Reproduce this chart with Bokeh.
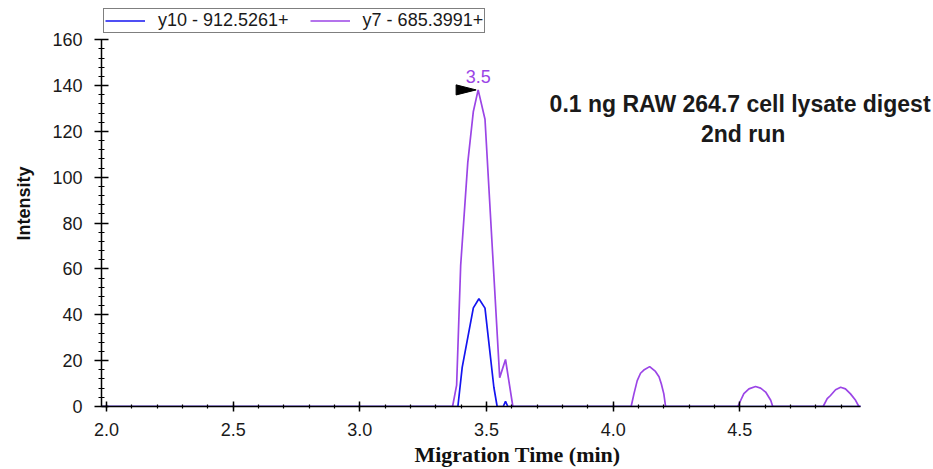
from bokeh.plotting import figure
from bokeh.models import (Range1d, SingleIntervalTicker, PrintfTickFormatter,
                          Legend, LegendItem, Label)
from bokeh.core.properties import value
from bokeh.embed import file_html
from bokeh.resources import INLINE

# ---- data ----
x_start, x_end = 1.98, 4.977        # drawn extent of the time axis
y_lo, y_hi = 0, 160                 # drawn extent of the intensity axis

y10_time = [x_start, 3.387, 3.404, 3.448, 3.470, 3.494, 3.529, 3.542,
            3.566, 3.575, 3.584, x_end]
y10_int = [0, 0, 17.1, 43.0, 47.0, 42.9, 8.4, 0,
           0, 2.2, 0, 0]

y7_time = [x_start, 3.366, 3.382, 3.398, 3.426, 3.448, 3.467, 3.494, 3.552,
           3.575, 3.604,
           4.071, 4.082, 4.095, 4.108, 4.121, 4.144, 4.167, 4.181, 4.190,
           4.200, 4.207,
           4.492, 4.516, 4.536, 4.562, 4.582, 4.602, 4.622, 4.630,
           4.829, 4.845, 4.858, 4.878, 4.898, 4.917, 4.937, 4.957, 4.970,
           x_end]
y7_int = [0, 0, 9.3, 61.6, 106.4, 128.7, 138.1, 125.3, 12.6,
          20.5, 0,
          0, 5.5, 11.3, 14.5, 15.9, 17.4, 15.3, 13.0, 9.9,
          5.5, 0,
          0, 5.6, 7.7, 8.7, 8.0, 6.3, 2.7, 0,
          0, 3.4, 4.8, 7.3, 8.4, 7.7, 5.5, 2.7, 0,
          0]

series_labels = ["y10 - 912.5261+", "y7 - 685.3991+"]
title_lines = ["0.1 ng RAW 264.7 cell lysate digest", "2nd run"]

BLUE = "#1414f0"
PURPLE = "#9b45e6"

W, H = 933, 469
LEFT, BOTTOM = 101, 62
frame_w = W - LEFT
frame_h = H - BOTTOM
px_per_min = 253.3
px_per_unit = (frame_h - 39.3) / (y_hi - y_lo)
x_range_end = x_start + frame_w / px_per_min
y_range_end = y_lo + frame_h / px_per_unit

p = figure(width=W, height=H,
           x_range=Range1d(x_start, x_range_end),
           y_range=Range1d(y_lo, y_range_end),
           output_backend="svg", toolbar_location=None,
           min_border_left=LEFT, min_border_right=0,
           min_border_top=0, min_border_bottom=BOTTOM)
p.xgrid.visible = False
p.ygrid.visible = False
p.outline_line_color = None

rp = p.line(y7_time, y7_int, line_color=PURPLE, line_width=1.7)
rb = p.line(y10_time, y10_int, line_color=BLUE, line_width=1.7)

# apex annotation
imax = max(range(len(y7_int)), key=lambda i: y7_int[i])
ax, ay = y7_time[imax], y7_int[imax]
p.patch([ax - 0.008, ax - 0.087, ax - 0.087], [ay, ay + 2.2, ay - 2.2],
        fill_color="black", line_color="black", line_width=1)
p.text([ax], [ay], text=[f"{ax:.1f}"], text_color=PURPLE,
       text_font=value("Liberation Sans"), text_font_size="18px",
       text_align="center", text_baseline="middle", y_offset=-13)

# axes
xa = p.xaxis[0]
xa.bounds = (x_start, x_end)
xa.ticker = SingleIntervalTicker(interval=0.5, num_minor_ticks=5)
xa.formatter = PrintfTickFormatter(format="%.1f")
xa.axis_label = "Migration Time (min)"
xa.axis_label_text_font = "Liberation Serif"
xa.axis_label_text_font_style = "bold"
xa.axis_label_text_font_size = "22px"
xa.axis_label_standoff = 3
xa.major_label_standoff = 11

ya = p.yaxis[0]
ya.bounds = (y_lo, y_hi)
ya.ticker = SingleIntervalTicker(interval=20, num_minor_ticks=5)
ya.axis_label = "Intensity"
ya.axis_label_text_font = "Liberation Sans"
ya.axis_label_text_font_style = "bold"
ya.axis_label_text_font_size = "18px"
ya.axis_label_standoff = 15
ya.major_label_standoff = 12

for a in (xa, ya):
    a.axis_line_color = "black"
    a.axis_line_width = 1.5
    a.major_tick_line_color = "black"
    a.major_tick_line_width = 1.5
    a.minor_tick_line_color = "black"
    a.minor_tick_line_width = 1.2
    a.major_label_text_font = "Liberation Sans"
    a.major_label_text_font_size = "18px"
    a.major_label_text_color = "#1a1a1a"
    a.axis_label_text_color = "#111111"

xa.major_tick_in = 5
xa.major_tick_out = 5
xa.minor_tick_in = 2
xa.minor_tick_out = 2
ya.major_tick_in = 7
ya.major_tick_out = 7
ya.minor_tick_in = 3
ya.minor_tick_out = 3

# title text
p.add_layout(Label(x=4.501, y=132.1, text=title_lines[0], text_align="center",
                   text_baseline="middle", text_font="Liberation Sans",
                   text_font_style="bold", text_font_size="23px",
                   text_color="#1a1a1a"))
p.add_layout(Label(x=4.513, y=119.0, text=title_lines[1], text_align="center",
                   text_baseline="middle", text_font="Liberation Sans",
                   text_font_style="bold", text_font_size="23px",
                   text_color="#1a1a1a"))

legend = Legend(items=[LegendItem(label=series_labels[0], renderers=[rb]),
                       LegendItem(label=series_labels[1], renderers=[rp])],
                orientation="horizontal", location=(2, frame_h - 34),
                border_line_color="black", border_line_width=1.5,
                background_fill_color="white", background_fill_alpha=1,
                label_text_font="Liberation Sans", label_text_font_size="18px",
                label_text_color="#1a1a1a",
                glyph_width=40, glyph_height=15, label_height=15,
                label_standoff=13, spacing=21, padding=1, margin=0)
p.add_layout(legend)

open("out.html", "w").write(file_html(p, INLINE))
